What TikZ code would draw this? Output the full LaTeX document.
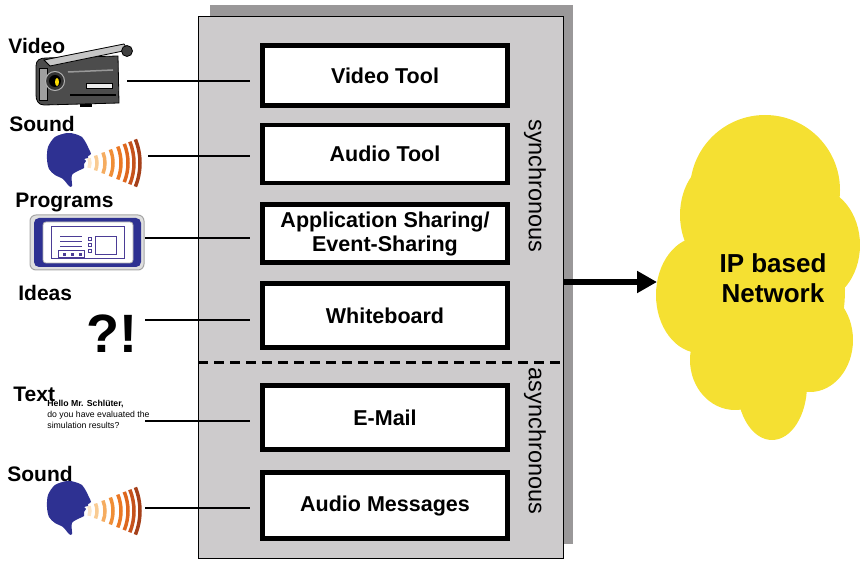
\documentclass[tikz,border=0pt]{standalone}
\usepackage{fontspec}
\setmainfont{Liberation Sans}
\usepackage{tikz}
\usetikzlibrary{arrows.meta,calc,positioning}

\definecolor{panel}{HTML}{CDCBCC}
\definecolor{shadow}{HTML}{9A9899}
\definecolor{cloudy}{HTML}{F5E032}
\definecolor{headblue}{HTML}{2E3192}
\definecolor{winline}{HTML}{4B3C96}
\definecolor{w1}{HTML}{FCE6C8}
\definecolor{w2}{HTML}{F9CB92}
\definecolor{w3}{HTML}{F5AC60}
\definecolor{w4}{HTML}{F08E36}
\definecolor{w5}{HTML}{EB7824}
\definecolor{w6}{HTML}{DE661D}
\definecolor{w7}{HTML}{C6521C}
\definecolor{w8}{HTML}{A5401A}

\begin{document}
\begin{tikzpicture}[x=1pt,y=-1pt,thick]
\tikzstyle{tool} = [draw=black,line width=4.5pt,fill=white,minimum width=245pt,inner sep=0pt,
  align=center,font=\fontsize{21.5}{24}\selectfont\bfseries]
\tikzstyle{src} = [inner sep=0pt,anchor=base west,font=\fontsize{21}{24}\selectfont\bfseries]
\tikzstyle{mode} = [rotate=-90,inner sep=0pt,font=\fontsize{23.5}{26}\selectfont]
\tikzstyle{link} = [line width=1.5pt,shorten >=10pt]
\tikzset{speaker/.pic={
  % sound waves, light to dark
  \foreach \rad/\col in {13/w1,20/w2,28/w3,36/w4,44/w5,51/w6,57/w7,63/w8}
    \draw[\col,line width=3.5pt] (30,30) ++(-22:\rad pt) arc[start angle=-22,end angle=22,radius=\rad pt];
  % head in profile
  \fill[headblue] plot[smooth cycle,tension=0.5] coordinates {
    (20,0) (8,4) (1,14) (0,26) (2,36) (8,42) (16,46) (22,53) (25,53) (25,42)
    (33,37) (37,35) (37,31) (39,28) (37,26) (41,25) (41,23) (44,21) (41,14)
    (39,10) (35,4) (28,1)};
}}

\useasboundingbox (0,0) rectangle (860,561);

% panel with shadow
\fill[shadow] (210,5) rectangle (573,544);
\filldraw[fill=panel,draw=black,line width=1pt] (198,17) rectangle (563,558);
\draw[line width=3pt,dash pattern=on 10pt off 6pt] (198,363) -- (563,363);

% tools
\node[tool,minimum height=60pt] (vid)  at (385,75.5)  {Video Tool};
\node[tool,minimum height=58pt] (aud)  at (385,154)   {Audio Tool};
\node[tool,minimum height=58pt] (app)  at (385,233.5) {Application Sharing/\\Event-Sharing};
\node[tool,minimum height=64pt] (wb)   at (385,315.5) {Whiteboard};
\node[tool,minimum height=64pt] (mail) at (385,417.5) {E-Mail};
\node[tool,minimum height=66pt] (amsg) at (385,505.5) {Audio Messages};

\node[mode] (sync)  at (535,186) {synchronous};
\node[mode] (async) at (535,441) {asynchronous};

% sources
\node[src] (lvid)   at (8,54)   {Video};
\node[src] (lsnd)   at (9,132)  {Sound};
\node[src] (lprog)  at (15,208) {Programs};
\node[src] (lidea)  at (18,301) {Ideas};
\node[src] (ltext)  at (13,402) {Text};
\node[src] (lsnd2)  at (7,481)  {Sound};

% camcorder
\filldraw[fill=gray!60!black,draw=black,line width=0.8pt]
  (36,66) .. controls (36,60) and (40,58) .. (46,58) -- (118,56) -- (119,103)
  -- (44,105) .. controls (38,105) and (36,100) .. (36,95) -- cycle;
\filldraw[fill=gray!45,draw=black,line width=0.8pt] (44,60) -- (124,44) -- (128,50) -- (50,66) -- cycle;
\filldraw[fill=gray!50!black,draw=black,line width=0.8pt] (127,51) circle (5.5);
\filldraw[fill=gray!75,draw=black,line width=0.6pt] (39,68) rectangle (47,100);
\filldraw[fill=black!80,draw=gray!60,line width=1pt] (55,81) circle (9.5);
\fill[black] (55,81) circle (6);
\fill[yellow!80!orange] (57,82) ellipse (2 and 4);
\filldraw[fill=gray!15,draw=black,line width=0.5pt] (86,83) rectangle (112,88);
\draw[gray!80,line width=1.5pt] (68,72) -- (113,70);
\draw[black,line width=1.5pt] (70,95) -- (116,95);
\fill[black] (80,104) rectangle (92,107);
\coordinate (cam) at (127,81);

% speakers
\pic at (47,133) {speaker};
\coordinate (spk) at (148,156);
\pic at (47,481) {speaker};
\coordinate (spk2) at (145,508);

% program window
\filldraw[fill=gray!25,draw=gray!70,line width=1pt,rounded corners=6pt] (30,215) rectangle (144,270);
\fill[headblue,rounded corners=5pt] (34,218) rectangle (141,267);
\filldraw[fill=white,draw=gray!60,line width=0.8pt,rounded corners=3pt] (43,222) rectangle (133,263);
\draw[winline,line width=1pt] (51,227) rectangle (124,259);
\foreach \yy in {237,242,247}
  \draw[winline,line width=1pt] (60,\yy) -- (82,\yy);
\draw[winline,line width=1pt] (58,251) rectangle (84,258);
\foreach \xx in {63,71,79}
  \fill[winline] (\xx,253) rectangle ++(3,3);
\foreach \yy in {237,243,249}
  \draw[winline,line width=0.8pt] (88,\yy) rectangle ++(3,3);
\draw[winline,line width=1pt] (95,237) rectangle (116,255);
\coordinate (prog) at (145,238);

% ideas
\node[inner sep=0pt,anchor=base,font=\fontsize{54}{54}\selectfont\bfseries] (qm) at (111.5,353) {?!};
\coordinate (idea) at (145,320);

% mail text
\node[inner sep=0pt,anchor=north west,align=left,font=\fontsize{8.7}{10.8}\selectfont] (note) at (47,400)
  {\textbf{Hello Mr. Schlüter,}\\do you have evaluated the\\simulation results?};
\coordinate (txt) at (145,421);

\draw[link] (cam)  -- (cam -| vid.west);
\draw[link] (spk)  -- (spk -| aud.west);
\draw[link] (prog) -- (prog -| app.west);
\draw[link] (idea) -- (idea -| wb.west);
\draw[link] (txt)  -- (txt -| mail.west);
\draw[link] (spk2) -- (spk2 -| amsg.west);

% network cloud
\fill[cloudy] (765,190) circle (75);
\fill[cloudy] (720,215) ellipse (40 and 55);
\fill[cloudy] (700,295) ellipse (44 and 58);
\fill[cloudy] (815,245) ellipse (45 and 57);
\fill[cloudy] (810,340) ellipse (43 and 52);
\fill[cloudy] (735,360) ellipse (45 and 50);
\fill[cloudy] (772,385) ellipse (35 and 55);
\fill[cloudy] (765,290) ellipse (80 and 110);
\node[align=center,font=\fontsize{26}{30}\selectfont\bfseries] (net) at (773,278) {IP based\\Network};

\coordinate (out) at (563,282);
\coordinate (netin) at (657,282);
\draw[line width=6pt,-{Triangle[length=20pt,width=21pt]}] (out) -- (netin);
\end{tikzpicture}
\end{document}
